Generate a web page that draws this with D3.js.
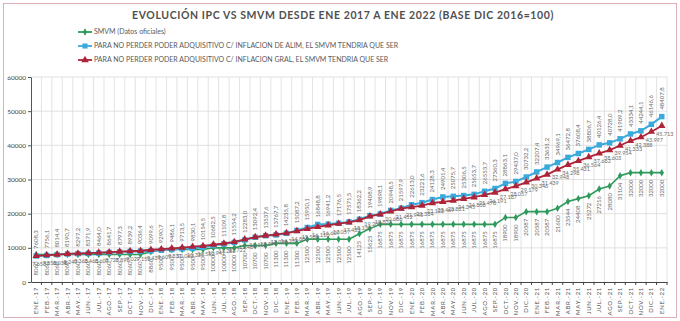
<!DOCTYPE html>
<html>
<head>
<meta charset="utf-8">
<script src="https://cdn.jsdelivr.net/npm/d3@7/dist/d3.min.js"></script>
<style>
  body { margin: 0; background: #fff; }
  svg text { font-family: Lato, "Open Sans", "Liberation Sans", sans-serif; }
</style>
</head>
<body>
<div id="chart"></div>
<script>
// Month abbreviations and year suffixes for the category axis
const monthAbbr = ["ENE", "FEB", "MAR", "ABR", "MAY", "JUN", "JUL", "AGO", "SEP", "OCT", "NOV", "DIC"];
const yearTags = ["17", "18", "19", "20", "21", "22"];

// SMVM oficial
const smvm = [
  8060, 8060, 8060, 8060, 8060, 8060, 8060, 8060, 8060, 8060, 8060, 8860,
  9500, 9500, 9500, 9500, 9500, 10000, 10000, 10000, 10700, 10700, 10700, 11300,
  11300, 11300, 12500, 12500, 12500, 12500, 12500, 14125, 15625, 16875, 16875, 16875,
  16875, 16875, 16875, 16875, 16875, 16875, 16875, 16875, 16875, 18900, 18900, 20587,
  20587, 20587, 21600, 23544, 24408, 25272, 27216, 28080, 31104, 32000, 32000, 32000,
  32000
];

// SMVM ajustado por inflación de alimentos
const alimentos = [
  7608.3, 7756.1, 8014.4, 8190.7, 8297.2, 8371.9, 8464.0, 8641.7, 8797.3, 8939.2, 9036.4, 9099.6,
  9290.7, 9486.1, 9713.5, 9830.1, 10154.5, 10682.5, 11109.8, 11554.2, 12283.0, 13092.4, 13537.6, 13767.7,
  14235.8, 15087.2, 15950.1, 16848.8, 16941.2, 17176.5, 17571.5, 18362.2, 19408.9, 19898.1, 20948.5, 21597.9,
  22613.0, 23221.6, 24128.3, 24901.4, 25075.7, 25306.5, 25653.7, 26553.7, 27360.3, 28863.1, 29437.0, 30732.2,
  32207.4, 33631.2, 34969.1, 36472.8, 37608.4, 38806.7, 40126.4, 40728.0, 41909.2, 43334.1, 44244.1, 46146.6,
  48407.8
];

// SMVM ajustado por inflación general
const general = [
  7658, 7850, 8038, 8247, 8363, 8463, 8607, 8727, 8893, 9027, 9153, 9437,
  9607, 9837, 10063, 10335, 10552, 10942, 11282, 11722, 12484, 13158, 13579, 13932,
  14336, 14881, 15580, 16110, 16609, 17057, 17433, 18130, 19200, 19833, 20686, 21452,
  21945, 22384, 23123, 23469, 23821, 24345, 24808, 25478, 26191, 27187, 28057, 29179,
  30346, 31439, 32948, 34298, 35431, 36564, 37662, 38603, 39954, 41333, 42388, 43997,
  45713
];

const yTicks = [0, 10000, 20000, 30000, 40000, 50000, 60000];

const title = "EVOLUCIÓN IPC VS SMVM DESDE ENE 2017 A ENE 2022 (BASE DIC 2016=100)";
const legendNames = [
  "SMVM (Datos oficiales)",
  "PARA NO PERDER PODER ADQUISITIVO C/ INFLACION DE ALIM, EL SMVM TENDRIA QUE SER",
  "PARA NO PERDER PODER ADQUISITIVO C/ INFLACION GRAL, EL SMVM TENDRIA QUE SER"
];

const months = [];
yearTags.forEach(yy => monthAbbr.forEach(m => months.push(m + ".-" + yy)));
months.length = smvm.length;

const W = 680, H = 321;
const colors = { smvm: "#2f9a5c", alim: "#3aa9db", gral: "#ad2439" };
const labelColor = "#6e6e6e";

const svg = d3.select("#chart").append("svg")
  .attr("width", W).attr("height", H)
  .attr("viewBox", `0 0 ${W} ${H}`);

// chart frame
svg.append("rect")
  .attr("x", 3.5).attr("y", 3.5).attr("width", W - 7).attr("height", H - 7)
  .attr("fill", "#fff").attr("stroke", "#dcb0b4").attr("stroke-width", 1);

const x = d3.scaleBand().domain(months).range([31, 667]);
const y = d3.scaleLinear().domain([0, 60000]).range([282, 77]);
const cx = d => x(d) + x.bandwidth() / 2;

// Grid
svg.append("g").selectAll("line").data(yTicks.slice(1)).enter().append("line")
  .attr("x1", 31).attr("x2", 667)
  .attr("y1", d => y(d)).attr("y2", d => y(d))
  .attr("stroke", "#d9d9d9").attr("stroke-width", 0.8);

svg.append("g").selectAll("line").data(months).enter().append("line")
  .attr("x1", d => x(d) + x.bandwidth()).attr("x2", d => x(d) + x.bandwidth())
  .attr("y1", y(60000)).attr("y2", y(0))
  .attr("stroke", "#dcdcdc").attr("stroke-width", 0.8);

// Y axis
const yAxis = svg.append("g")
  .attr("transform", "translate(31,0)")
  .call(d3.axisLeft(y).tickValues(yTicks).tickSize(3).tickSizeOuter(0).tickFormat(d3.format("d")));
yAxis.select(".domain").attr("stroke", "#555");
yAxis.selectAll(".tick line").attr("stroke", "#555");
yAxis.selectAll("text").attr("fill", "#444").style("font-size", "6.5px").attr("x", -5);

// X axis
const xAxis = svg.append("g")
  .attr("transform", `translate(0,${y(0)})`)
  .call(d3.axisBottom(x).tickSize(0).tickSizeOuter(0));
xAxis.select(".domain").attr("stroke", "#444").attr("stroke-width", 1.2);
xAxis.selectAll("text")
  .attr("fill", "#555").style("font-size", "6px").style("letter-spacing", "0.7px")
  .attr("text-anchor", "end")
  .attr("transform", "rotate(-90)")
  .attr("x", -5).attr("y", 0).attr("dy", "0.35em");
// tick marks between categories
xAxis.selectAll(".cat-tick").data(months).enter().append("line")
  .attr("x1", d => x(d) + x.bandwidth()).attr("x2", d => x(d) + x.bandwidth())
  .attr("y1", 0).attr("y2", 3).attr("stroke", "#444");

const line = d3.line().x((d, i) => cx(months[i])).y(d => y(d));

function drawSeries(values, color, width, marker, size) {
  const g = svg.append("g");
  g.append("path").datum(values)
    .attr("d", line).attr("fill", "none")
    .attr("stroke", color).attr("stroke-width", width);
  g.selectAll("path.mk").data(values).enter().append("path")
    .attr("class", "mk")
    .attr("d", d3.symbol().type(marker).size(size))
    .attr("transform", (d, i) => `translate(${cx(months[i])},${y(d)})`)
    .attr("fill", color);
}

drawSeries(smvm, colors.smvm, 1.6, d3.symbolDiamond, 16);
drawSeries(alimentos, colors.alim, 2, d3.symbolSquare, 30);
drawSeries(general, colors.gral, 1.8, d3.symbolTriangle, 24);

// Data labels
const es = d3.formatLocale({ decimal: ",", thousands: ".", grouping: [3], currency: ["$", ""] });
const fmtAlim = es.format(".1f");
const fmtGral = es.format(",.0f");

svg.append("g").selectAll("text").data(alimentos).enter().append("text")
  .attr("transform", (d, i) => `translate(${cx(months[i]) + 2},${y(d) - 7}) rotate(-90)`)
  .attr("text-anchor", "start")
  .attr("fill", labelColor).style("font-size", "6px")
  .text(d => fmtAlim(d));

svg.append("g").selectAll("text").data(smvm).enter().append("text")
  .attr("transform", (d, i) => `translate(${cx(months[i]) + 2},${y(d) + 7}) rotate(-90)`)
  .attr("text-anchor", "end")
  .attr("fill", labelColor).style("font-size", "6px")
  .text(d => d3.format("d")(d));

svg.append("g").selectAll("text").data(general).enter().append("text")
  .attr("x", (d, i) => cx(months[i]) + 3).attr("y", d => y(d) + 10)
  .attr("text-anchor", "middle")
  .attr("fill", labelColor).style("font-size", "5.5px")
  .text(d => fmtGral(d));

// Title
svg.append("text")
  .attr("x", 343).attr("y", 19).attr("text-anchor", "middle")
  .attr("fill", "#505050").style("font-size", "10.5px").style("font-weight", "bold")
  .style("letter-spacing", "0.6px")
  .text(title);

// Legend
const legend = svg.append("g");
const legendItems = [
  { color: colors.smvm, marker: d3.symbolDiamond, size: 16 },
  { color: colors.alim, marker: d3.symbolSquare, size: 26 },
  { color: colors.gral, marker: d3.symbolTriangle, size: 24 }
];
legendItems.forEach((it, i) => {
  const ly = 32 + i * 14;
  legend.append("line").attr("x1", 78).attr("x2", 92).attr("y1", ly).attr("y2", ly)
    .attr("stroke", it.color).attr("stroke-width", 1.8);
  legend.append("path").attr("d", d3.symbol().type(it.marker).size(it.size)())
    .attr("transform", `translate(85,${ly})`).attr("fill", it.color);
  legend.append("text").attr("x", 94).attr("y", ly).attr("dy", "0.35em")
    .attr("fill", "#5a5a5a").style("font-size", "7px")
    .text(legendNames[i]);
});
</script>
</body>
</html>
